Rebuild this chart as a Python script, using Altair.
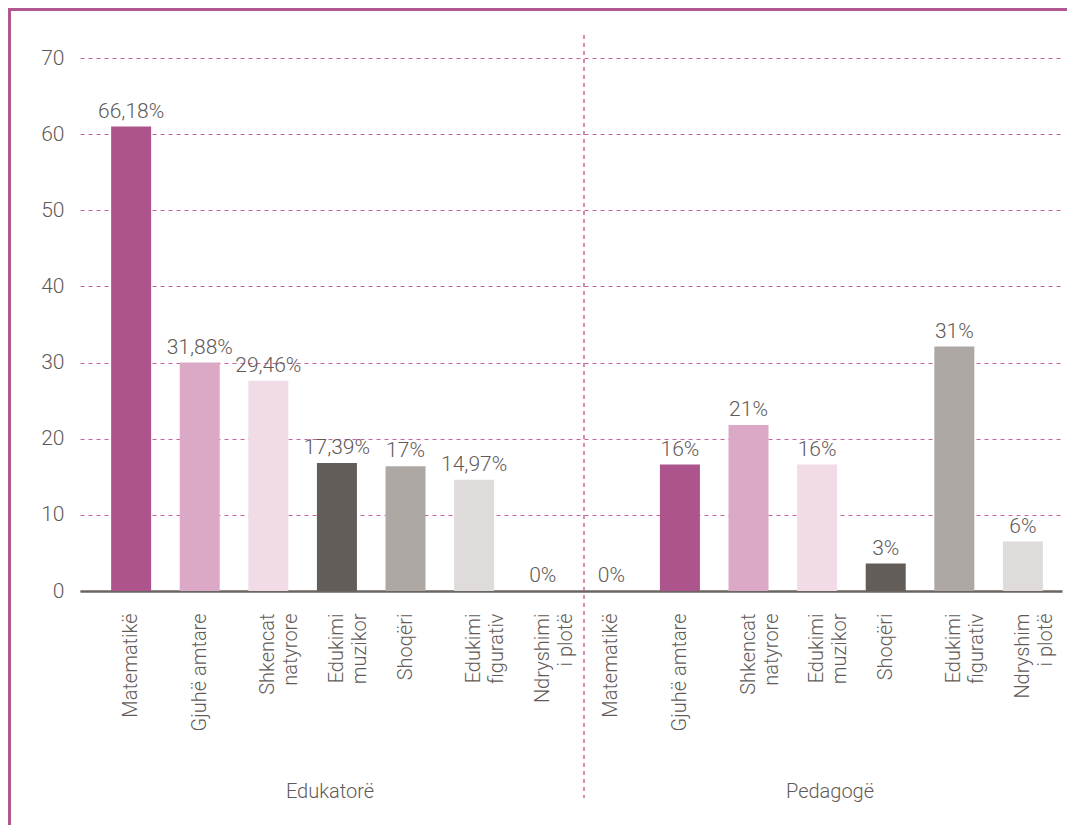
import altair as alt
import pandas as pd

# ---- data ----
groups = ["Edukatorë", "Pedagogë"]
subjects_edukatore = ["Matematikë", "Gjuhë amtare", "Shkencat\nnatyrore", "Edukimi\nmuzikor",
                      "Shoqëri", "Edukimi\nfigurativ", "Ndryshimi\ni plotë"]
subjects_pedagoge = ["Matematikë", "Gjuhë amtare", "Shkencat\nnatyrore", "Edukimi\nmuzikor",
                     "Shoqëri", "Edukimi\nfigurativ", "Ndryshim\ni plotë"]
values_edukatore = [61.0, 30.0, 27.6, 16.8, 16.4, 14.6, 0.0]
values_pedagoge = [0.0, 16.6, 21.8, 16.6, 3.6, 32.1, 6.5]
labels_edukatore = ["66,18%", "31,88%", "29,46%", "17,39%", "17%", "14,97%", "0%"]
labels_pedagoge = ["0%", "16%", "21%", "16%", "3%", "31%", "6%"]
shades_edukatore = ["s1", "s2", "s3", "s4", "s5", "s6", "s7"]
shades_pedagoge = ["s7", "s1", "s2", "s3", "s4", "s5", "s6"]
y_ticks = [0, 10, 20, 30, 40, 50, 60, 70]

# ---- styles ----
shade_domain = ["s1", "s2", "s3", "s4", "s5", "s6", "s7"]
palette = ["#ae548c", "#dba9c6", "#f1dbe7", "#625d59", "#aea8a5", "#dfdbda", "#dfdbda"]
TEXT = "#5f5a57"
PINK = "#c7619f"
FRAME = "#b2578f"
FONT = "Roboto"
FW = 300

rows = []
for gi, (g, subs, vals, labs, shs) in enumerate([
        (groups[0], subjects_edukatore, values_edukatore, labels_edukatore, shades_edukatore),
        (groups[1], subjects_pedagoge, values_pedagoge, labels_pedagoge, shades_pedagoge)]):
    for i, (s, v, l, sh) in enumerate(zip(subs, vals, labs, shs)):
        rows.append({"key": f"{g[0]}{i}|{s}", "group": g, "value": v, "label": l, "shade": sh})
df = pd.DataFrame(rows)
keys = list(df["key"])

W, H = 982, 533

xenc = alt.X("key:N", sort=keys,
             scale=alt.Scale(paddingInner=0.417, paddingOuter=0.366, align=0.62),
             axis=alt.Axis(title=None, labelAngle=270, labelAlign="right", labelBaseline="middle",
                           labelPadding=22, ticks=False, domain=True, domainColor="#6b6561",
                           domainWidth=2.5, labelFontSize=20, labelColor=TEXT, labelFont=FONT,
                           labelFontWeight=FW,
                           labelLineHeight=23, labelOverlap=False, labelLimit=300,
                           labelExpr="split(split(datum.value, '|')[1], '\\n')"))
yenc = alt.Y("value:Q", scale=alt.Scale(domain=[0, 70], nice=False),
             axis=alt.Axis(title=None, values=y_ticks, grid=True, gridDash=[4, 4], gridColor=PINK,
                           gridWidth=1, domain=False, ticks=False, labelPadding=16,
                           labelFontSize=21, labelColor=TEXT, labelFont=FONT, labelFontWeight=FW))

base = alt.Chart(df)
bars = base.mark_bar().encode(
    x=xenc, y=yenc,
    color=alt.Color("shade:N", scale=alt.Scale(domain=shade_domain, range=palette), legend=None))
texts = base.mark_text(baseline="alphabetic", dy=-9, fontSize=21, color=TEXT, font=FONT,
                       fontWeight=FW).encode(
    x=alt.X("key:N", sort=keys), y=alt.Y("value:Q"), text="label:N")

one = pd.DataFrame({"a": [0]})
divider = alt.Chart(one).mark_rule(color=PINK, strokeWidth=1.5, strokeDash=[4, 4]).encode(
    x=alt.value(504), y=alt.value(-23), y2=alt.value(740))
left_frame = alt.Chart(one).mark_rule(color=FRAME, strokeWidth=3).encode(
    x=alt.value(-70.5), y=alt.value(-60), y2=alt.value(H + 300))
top_frame = alt.Chart(one).mark_rule(color=FRAME, strokeWidth=3).encode(
    y=alt.value(-48.5), x=alt.value(-80), x2=alt.value(W + 100))
g1 = alt.Chart(one).mark_text(text=groups[0], fontSize=20, color=TEXT, font=FONT, fontWeight=FW,
                              baseline="middle", align="center").encode(
    x=alt.value(250), y=alt.value(734))
g2 = alt.Chart(one).mark_text(text=groups[1], fontSize=20, color=TEXT, font=FONT, fontWeight=FW,
                              baseline="middle", align="center").encode(
    x=alt.value(750), y=alt.value(734))

chart = alt.layer(bars, texts, divider, left_frame, top_frame, g1, g2).properties(
    width=W, height=H,
    autosize=alt.AutoSizeParams(type="none"),
    padding={"left": 72, "top": 50, "right": 5, "bottom": 234},
    background="white",
).configure_view(stroke=None)

chart.save("out.html", embed_options={"renderer": "svg", "actions": False})
